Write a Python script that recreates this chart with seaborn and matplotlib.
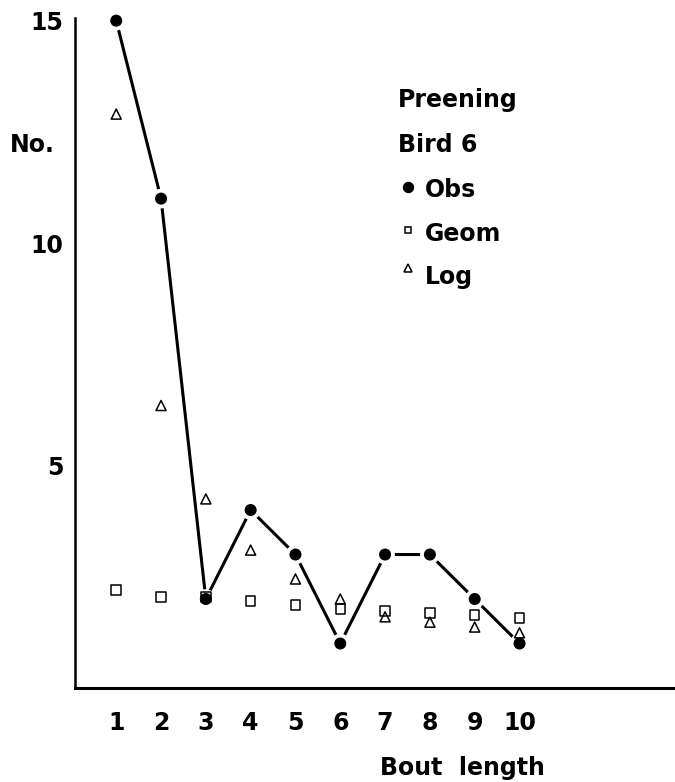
import matplotlib
matplotlib.use("Agg")
import matplotlib.pyplot as plt
import seaborn as sns
import pandas as pd

# Preening bout-length frequencies for bird 6
bout_length = [1, 2, 3, 4, 5, 6, 7, 8, 9, 10]
obs = [15, 11, 2, 4, 3, 1, 3, 3, 2, 1]
geom = [2.2, 2.05, 2.05, 1.96, 1.87, 1.78, 1.73, 1.69, 1.64, 1.57]
log = [12.9, 6.35, 4.25, 3.1, 2.45, 2.0, 1.6, 1.48, 1.37, 1.24]

y_ticks = [5, 10, 15]
legend_title = ["Preening", "Bird 6"]
legend_labels = ["Obs", "Geom", "Log"]

df = pd.DataFrame({"bout": bout_length, "obs": obs, "geom": geom, "log": log})

sns.set_style("white")
plt.rcParams["font.family"] = ["DejaVu Sans"]
plt.rcParams["font.weight"] = "bold"

W, H = 675, 782
fig = plt.figure(figsize=(W / 100, H / 100), dpi=100)
ax = fig.add_axes([75 / W, 94 / H, 600 / W, 670 / H])

# observed counts: joined line with a white gap around each dot
sns.lineplot(data=df, x="bout", y="obs", color="black", lw=2.2, ax=ax,
             clip_on=False, zorder=2)
sns.scatterplot(data=df, x="bout", y="obs", s=200, color="white",
                edgecolor="none", ax=ax, clip_on=False, zorder=3)
sns.scatterplot(data=df, x="bout", y="obs", s=75, color="black",
                edgecolor="none", ax=ax, clip_on=False, zorder=4)
# fitted geometric and logarithmic series
sns.scatterplot(data=df, x="bout", y="geom", marker="s", s=47,
                facecolor="none", edgecolor="black", linewidth=1.1,
                ax=ax, clip_on=False, zorder=5)
sns.scatterplot(data=df, x="bout", y="log", marker="^", s=52,
                facecolor="none", edgecolor="black", linewidth=1.1,
                ax=ax, clip_on=False, zorder=5)

ax.set_xlim(0.08, 13.47)
ax.set_ylim(0, 15.06)
ax.set_xticks(bout_length)
ax.set_xticklabels([str(b) for b in bout_length])
ax.set_yticks(y_ticks)
ax.set_yticklabels([str(t) for t in y_ticks])
ax.tick_params(axis="x", length=0, pad=16.5, labelsize=17, labelcolor="black")
ax.tick_params(axis="y", length=0, pad=8.5, labelsize=17, labelcolor="black")
for lab in ax.get_xticklabels() + ax.get_yticklabels():
    lab.set_fontweight("bold")
ax.set_xlabel("")
ax.set_ylabel("")
sns.despine(ax=ax)
ax.spines["left"].set_linewidth(1.8)
ax.spines["bottom"].set_linewidth(2.2)
ax.spines["left"].set_color("black")
ax.spines["bottom"].set_color("black")


def fx(px):
    return px / W


def fy(py):
    return 1 - py / H


txt = dict(fontsize=17, fontweight="bold", color="black")
fig.text(fx(10), fy(152), "No.", ha="left", va="baseline", **txt)
fig.text(fx(462), fy(775), "Bout  length", ha="center", va="baseline", **txt)

fig.text(fx(398), fy(107), legend_title[0], ha="left", va="baseline", **txt)
fig.text(fx(398), fy(152), legend_title[1], ha="left", va="baseline", **txt)
for label, base in zip(legend_labels, [197, 241, 284]):
    fig.text(fx(425), fy(base), label, ha="left", va="baseline", **txt)

# legend symbols
fig.add_artist(plt.Line2D([fx(408)], [fy(187)], marker="o", ms=7.2,
                          color="black", lw=0, transform=fig.transFigure))
fig.add_artist(plt.Line2D([fx(408)], [fy(230)], marker="s", ms=5.0,
                          mfc="none", mec="black", mew=1.1, lw=0,
                          transform=fig.transFigure))
fig.add_artist(plt.Line2D([fx(408)], [fy(268)], marker="^", ms=5.8,
                          mfc="none", mec="black", mew=1.1, lw=0,
                          transform=fig.transFigure))

fig.savefig("out.png", dpi=100)
